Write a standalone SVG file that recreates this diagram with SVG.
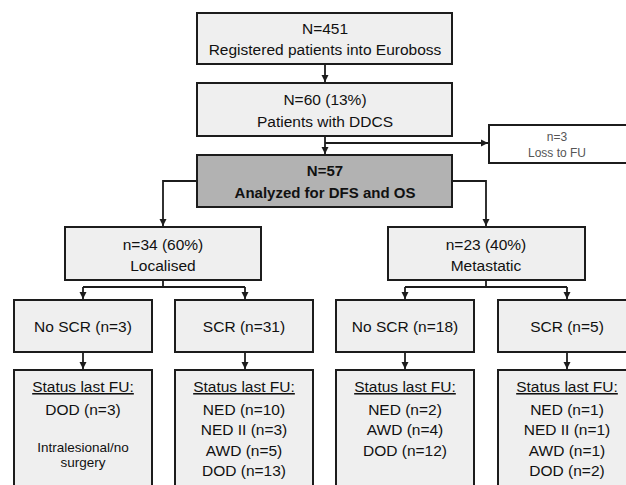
<svg xmlns="http://www.w3.org/2000/svg" width="626" height="485" viewBox="0 0 626 485">
<defs>
<style>
.box{fill:#efefef;stroke:#1c1c1c;stroke-width:2}
.dark{fill:#b2b2b2;stroke:#1c1c1c;stroke-width:2}
.loss{fill:#ffffff;stroke:#1c1c1c;stroke-width:2}
text{font-family:"Liberation Sans",Arial,sans-serif;font-size:15.5px;fill:#111;text-anchor:middle}
.b{font-weight:bold;font-size:15px}
.s{font-size:13.5px}
.g{font-size:12px;fill:#555}
.u{text-decoration:underline}
.c{fill:none;stroke:#1c1c1c;stroke-width:1.8}
</style>
<marker id="ah" markerWidth="8" markerHeight="8" refX="7" refY="4" orient="auto" markerUnits="userSpaceOnUse">
<path d="M0,0.5 L7,4 L0,7.5 Z" fill="#1c1c1c"/>
</marker>
</defs>
<rect width="626" height="485" fill="#ffffff"/>

<g id="connectors">
<path class="c" d="M325,64 V82" marker-end="url(#ah)"/>
<path class="c" d="M325,136 V154" marker-end="url(#ah)"/>
<path class="c" d="M325,143 H488" marker-end="url(#ah)"/>
<path class="c" d="M197,181 H163 V226" marker-end="url(#ah)"/>
<path class="c" d="M452,181 H486 V226" marker-end="url(#ah)"/>
<path class="c" d="M163,280 V287"/>
<path class="c" d="M83,287 H245"/>
<path class="c" d="M83,287 V299" marker-end="url(#ah)"/>
<path class="c" d="M245,287 V299" marker-end="url(#ah)"/>
<path class="c" d="M486,280 V287"/>
<path class="c" d="M405,287 H567"/>
<path class="c" d="M405,287 V299" marker-end="url(#ah)"/>
<path class="c" d="M567,287 V299" marker-end="url(#ah)"/>
<path class="c" d="M83,352 V369" marker-end="url(#ah)"/>
<path class="c" d="M245,352 V369" marker-end="url(#ah)"/>
<path class="c" d="M405,352 V369" marker-end="url(#ah)"/>
<path class="c" d="M567,352 V369" marker-end="url(#ah)"/>
</g>

<g id="registered">
<rect class="box" x="197" y="13" width="255" height="51"/>
<text x="325" y="34">N=451</text>
<text x="325" y="55">Registered patients into Euroboss</text>
</g>

<g id="ddcs">
<rect class="box" x="197" y="83" width="255" height="53"/>
<text x="325" y="105">N=60 (13%)</text>
<text x="325" y="127">Patients with DDCS</text>
</g>

<g id="loss">
<rect class="loss" x="489" y="125" width="140" height="38"/>
<text class="g" x="557" y="141">n=3</text>
<text class="g" x="557" y="157">Loss to FU</text>
</g>

<g id="analyzed">
<rect class="dark" x="197" y="155" width="255" height="52"/>
<text class="b" x="325" y="176">N=57</text>
<text class="b" x="325" y="198">Analyzed for DFS and OS</text>
</g>

<g id="localised">
<rect class="box" x="65" y="227" width="196" height="53"/>
<text x="163" y="250">n=34 (60%)</text>
<text x="163" y="271">Localised</text>
</g>

<g id="metastatic">
<rect class="box" x="388" y="227" width="197" height="53"/>
<text x="486" y="250">n=23 (40%)</text>
<text x="486" y="271">Metastatic</text>
</g>

<g id="loc-noscr">
<rect class="box" x="14" y="300" width="138" height="52"/>
<text x="83" y="332">No SCR (n=3)</text>
</g>

<g id="loc-scr">
<rect class="box" x="175" y="300" width="138" height="52"/>
<text x="244" y="332">SCR (n=31)</text>
</g>

<g id="met-noscr">
<rect class="box" x="336" y="300" width="138" height="52"/>
<text x="405" y="332">No SCR (n=18)</text>
</g>

<g id="met-scr">
<rect class="box" x="498" y="300" width="138" height="52"/>
<text x="567" y="332">SCR (n=5)</text>
</g>

<g id="loc-noscr-status">
<rect class="box" x="14" y="370" width="138" height="125"/>
<text class="u" x="83" y="392">Status last FU:</text>
<text x="83" y="415">DOD (n=3)</text>
<text class="s" x="83" y="452">Intralesional/no</text>
<text class="s" x="83" y="467">surgery</text>
</g>

<g id="loc-scr-status">
<rect class="box" x="175" y="370" width="138" height="125"/>
<text class="u" x="244" y="392">Status last FU:</text>
<text x="244" y="415">NED (n=10)</text>
<text x="244" y="435">NED II (n=3)</text>
<text x="244" y="456">AWD (n=5)</text>
<text x="244" y="476">DOD (n=13)</text>
</g>

<g id="met-noscr-status">
<rect class="box" x="336" y="370" width="138" height="125"/>
<text class="u" x="405" y="392">Status last FU:</text>
<text x="405" y="415">NED (n=2)</text>
<text x="405" y="435">AWD (n=4)</text>
<text x="405" y="456">DOD (n=12)</text>
</g>

<g id="met-scr-status">
<rect class="box" x="498" y="370" width="138" height="125"/>
<text class="u" x="567" y="392">Status last FU:</text>
<text x="567" y="415">NED (n=1)</text>
<text x="567" y="435">NED II (n=1)</text>
<text x="567" y="456">AWD (n=1)</text>
<text x="567" y="476">DOD (n=2)</text>
</g>
</svg>
